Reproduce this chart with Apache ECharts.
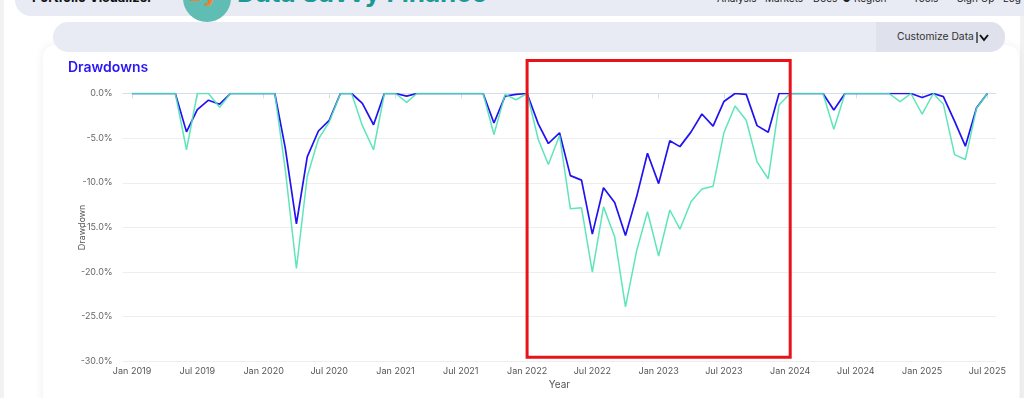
<!DOCTYPE html>
<html>
<head>
<meta charset="utf-8">
<script src="https://cdn.jsdelivr.net/npm/echarts@6/dist/echarts.min.js"></script>
<style>
  html, body { margin: 0; padding: 0; }
  body { width: 1024px; height: 398px; overflow: hidden; position: relative; background: #fff;
         font-family: Inter, Roboto, "Noto Sans", sans-serif; }
  .strip { position: absolute; left: 0; top: 0; width: 4px; height: 398px; background: #f2f2f2; }
  .strip.r { left: 1020px; }
  .topbar { position: absolute; left: 15px; top: -30px; width: 1040px; height: 46px;
            background: #e8ebf4; border-radius: 0 0 0 16px; }
  .brand { position: absolute; left: 32px; top: -11px; font-size: 13px; font-weight: 700; color: #111; }
  .logo { position: absolute; left: 183px; top: -26px; width: 48px; height: 48px; border-radius: 50%;
          background: #5fbdb4; overflow: hidden; }
  .logo span { position: absolute; left: 6px; top: 6px; font-size: 22px; font-weight: 800; color: #f08030; }
  .site { position: absolute; left: 237px; top: -23px; font-size: 26px; font-weight: 700; color: #1b9a95; }
  .nav { position: absolute; top: -8px; font-size: 10px; color: #222; }
  .bar2 { position: absolute; left: 53px; top: 22px; width: 952px; height: 30px;
          background: #e8ebf4; border-radius: 15px; overflow: hidden; }
  .cust { position: absolute; right: 0; top: 0; width: 129px; height: 30px; background: #dfe2ec; }
  .cust span { position: absolute; left: 21px; top: 8px; font-size: 10.3px; color: #333; }
  .card { position: absolute; left: 43px; top: 45px; width: 976px; height: 380px; background: #fff;
          border-radius: 12px; box-shadow: 0 0 10px rgba(0,0,0,0.07); }
  #chart { position: absolute; left: 0; top: 0; width: 1024px; height: 398px; }
</style>
</head>
<body>
<div class="strip"></div>
<div class="strip r"></div>
<div class="topbar"></div>
<div class="brand">Portfolio Visualizer</div>
<div class="logo"><span>Bý</span></div>
<div class="site">Data Savvy Finance</div>
<div class="nav" style="left:717px">Analysis</div>
<div class="nav" style="left:765px">Markets</div>
<div class="nav" style="left:813px">Docs</div>
<div class="nav" style="left:842px">&#9679; Region</div>
<div class="nav" style="left:913px">Tools</div>
<div class="nav" style="left:957px">Sign Up</div>
<div class="nav" style="left:1003px">Log</div>
<div class="card"></div>
<div class="bar2">
  <div class="cust"><span>Customize Data</span>
    <svg style="position:absolute;left:100px;top:10px" width="13" height="11">
      <line x1="1" y1="0" x2="1" y2="11" stroke="#111" stroke-width="1.2"/>
      <polyline points="4,3 8,8 12,3" fill="none" stroke="#111" stroke-width="2"/>
    </svg>
  </div>
</div>
<div id="chart"></div>
<script>
const START_YEAR = 2019;
const MONTH_COUNT = 79; // Jan 2019 .. Jul 2025

// drawdown in percent, one value per month
const blueDD = [
  0, 0, 0, 0, 0, -4.3, -1.8, -0.75, -1.2, 0, 0, 0,
  0, 0, -6.1, -14.6, -7.1, -4.2, -3.0, 0, 0, -1.1, -3.5, 0,
  0, -0.3, 0, 0, 0, 0, 0, 0, 0, -3.3, -0.3, -0.1,
  0, -3.4, -5.6, -4.4, -9.2, -9.7, -15.75, -10.55, -12.2, -15.9, -11.55, -6.7,
  -10.1, -5.3, -5.95, -4.3, -2.3, -3.65, -0.9, 0, -0.1, -3.6, -4.35, 0,
  0, 0, 0, 0, -1.85, 0, 0, 0, 0, 0, 0, 0,
  -0.45, 0, -0.35, -3.1, -5.9, -1.6, 0
];
const greenDD = [
  0, 0, 0, 0, 0, -6.3, 0, 0, -1.55, 0, 0, 0,
  0, 0, -8.5, -19.6, -9.3, -5.1, -3.2, 0, 0, -3.6, -6.3, 0,
  0, -1.0, 0, 0, 0, 0, 0, 0, 0, -4.6, -0.1, -0.7,
  0, -5.15, -7.95, -4.7, -12.9, -12.8, -20.0, -12.7, -16.05, -23.9, -17.6, -13.25,
  -18.2, -13.05, -15.2, -12.1, -10.7, -10.4, -4.4, -1.4, -3.0, -7.65, -9.55, -1.3,
  0, 0, 0, 0, -4.0, 0, 0, 0, 0, 0, -0.9, 0,
  -2.3, 0, -1.2, -6.85, -7.4, -1.65, 0
];

const months = [];
for (let i = 0; i < MONTH_COUNT; i++) {
  const y = START_YEAR + Math.floor(i / 12);
  const m = String(i % 12 + 1).padStart(2, "0");
  months.push(`${y}-${m}-01`);
}

const BLUE = "#2212f2";
const GREEN = "#4de2b2";

const chart = echarts.init(document.getElementById("chart"));
chart.setOption({
  animation: false,
  title: {
    text: "Drawdowns", left: 63, top: 56,
    textStyle: { fontSize: 14, fontWeight: 600, color: "#2a16f4", fontFamily: "Inter" }
  },
  grid: { left: 122.7, right: 28, top: 93.5, bottom: 36.7 },
  xAxis: {
    type: "time",
    min: "2018-12-06",
    max: "2025-07-25",
    splitNumber: 13,
    name: "Year", nameLocation: "middle", nameGap: 18,
    nameTextStyle: { fontSize: 10, color: "#555", fontFamily: "Inter" },
    axisLine: { lineStyle: { color: "#d6deee" } },
    axisTick: { lineStyle: { color: "#d6deee" } },
    axisLabel: { formatter: "{MMM} {yyyy}", fontSize: 9, color: "#555", margin: 5,
                 fontFamily: "Inter", fontWeight: "normal" },
    splitLine: { show: false }
  },
  yAxis: {
    type: "value", min: -30, max: 0, interval: 5,
    name: "Drawdown", nameLocation: "middle", nameGap: 36, nameMoveOverlap: false,
    nameTextStyle: { fontSize: 9, color: "#555", fontFamily: "Inter" },
    axisLabel: { formatter: v => v.toFixed(1) + "%", fontSize: 9, color: "#666", margin: 10, fontFamily: "Inter" },
    axisLine: { show: false }, axisTick: { show: false },
    splitLine: { lineStyle: { color: "#eeeeee" } }
  },
  series: [
    { name: "Portfolio 1", type: "line", showSymbol: false, lineStyle: { color: BLUE, width: 1.7 },
      itemStyle: { color: BLUE }, data: months.map((d, i) => [d, blueDD[i]]) },
    { name: "Portfolio 2", type: "line", showSymbol: false, lineStyle: { color: GREEN, width: 1.5, opacity: 0.9 },
      itemStyle: { color: GREEN }, data: months.map((d, i) => [d, greenDD[i]]) }
  ]
});

// red highlight box around 2022-2023
const x0 = chart.convertToPixel({ xAxisIndex: 0 }, "2022-01-01");
const x1 = chart.convertToPixel({ xAxisIndex: 0 }, "2024-01-01");
const yTop = chart.convertToPixel({ yAxisIndex: 0 }, 0) - 33;
const yBot = chart.convertToPixel({ yAxisIndex: 0 }, -30) - 4;
chart.setOption({
  graphic: [{
    type: "rect", z: 100,
    shape: { x: x0, y: yTop, width: x1 - x0, height: yBot - yTop },
    style: { fill: "none", stroke: "#e8121b", lineWidth: 3 }
  }]
});
</script>
</body>
</html>
